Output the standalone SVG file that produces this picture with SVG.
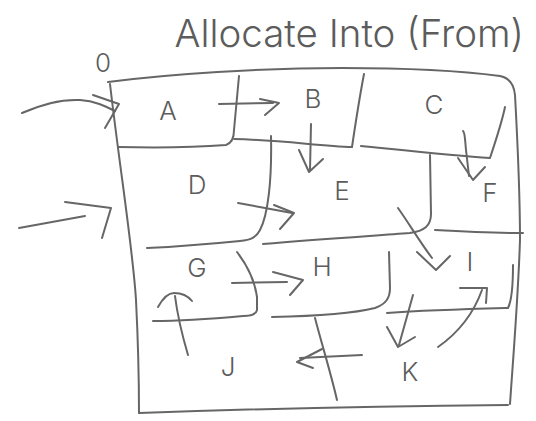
<svg xmlns="http://www.w3.org/2000/svg" width="536" height="421" viewBox="0 0 536 421">
  <style>
    .ink { fill: none; stroke: #666; stroke-width: 2; stroke-linecap: round; stroke-linejoin: round; }
    .lbl { font-family: Inter, "Liberation Sans", Arial, sans-serif; font-weight: 300; font-size: 26px; fill: #5c5c5c; text-anchor: middle; dominant-baseline: central; }
    .title { font-family: Inter, "Liberation Sans", Arial, sans-serif; font-weight: 300; font-size: 38.5px; fill: #5c5c5c; text-anchor: end; }
  </style>
  <rect width="536" height="421" fill="#fff"/>

  <!-- heading and origin mark -->
  <text class="title" x="524" y="47">Allocate Into (From)</text>
  <text class="lbl" x="103" y="62" font-size="19">0</text>

  <!-- outer frame and cell borders -->
  <g id="grid" class="ink">
    <path d="M108,82 C170,74 260,68 342,68 C420,68 470,72 500,76 C510,78 514,85 515,95 C518,150 520,200 520,240 C518,300 513,360 510,404"/>
    <path d="M110,84 C120,170 133,250 136,300 C138,340 139,380 139,413"/>
    <path d="M139,413 C250,409 400,406 508,405"/>
    <!-- A / B / C row -->
    <path d="M118,147 C160,148 200,147 226,145 C232,143 234,138 234,130 L239,76"/>
    <path d="M234,139 C280,140 320,146 352,147 C356,120 360,95 364,74"/>
    <path d="M361,146 C410,151 455,156 490,158 C496,140 502,122 505,107"/>
    <!-- D / E / F row -->
    <path d="M271,136 C272,180 268,215 260,230 C256,238 250,240 240,241 C200,245 170,247 147,248"/>
    <path d="M263,244 C320,239 370,236 410,233 C424,231 431,226 431,214 L430,155"/>
    <path d="M435,230 C470,232 500,233 523,233"/>
    <!-- G / H / I row -->
    <path d="M237,252 C247,265 255,282 257,297 L257,310 C256,315 250,316 243,316 C210,319 180,321 153,321"/>
    <path d="M272,317 C320,316 355,313 375,308 C386,304 390,298 390,288 L389,252"/>
    <path d="M387,313 C430,310 470,309 508,308 C512,300 513,285 513,265"/>
    <!-- J / K divider -->
    <path d="M315,318 C322,345 330,370 337,400"/>
  </g>

  <!-- cell labels -->
  <g id="A"><text class="lbl" x="168" y="110">A</text></g>
  <g id="B"><text class="lbl" x="313" y="98">B</text></g>
  <g id="C"><text class="lbl" x="434" y="104">C</text></g>
  <g id="D"><text class="lbl" x="197" y="184">D</text></g>
  <g id="E"><text class="lbl" x="342" y="190">E</text></g>
  <g id="F"><text class="lbl" x="490" y="192">F</text></g>
  <g id="G"><text class="lbl" x="197" y="267">G</text></g>
  <g id="H"><text class="lbl" x="322" y="266">H</text></g>
  <g id="I"><text class="lbl" x="470" y="261">I</text></g>
  <g id="J"><text class="lbl" x="228" y="366">J</text></g>
  <g id="K"><text class="lbl" x="410" y="371">K</text></g>

  <!-- allocation arrows -->
  <g id="connectors" class="ink">
    <!-- into A -->
    <path d="M22,113 C40,105 60,99 80,100 C95,101 105,106 115,111"/>
    <path d="M93,95 L119,104 L105,128"/>
    <!-- into D -->
    <path d="M19,228 L85,216"/>
    <path d="M65,202 L111,208 L102,238"/>
    <!-- A to B -->
    <path d="M219,104 L273,103"/>
    <path d="M260,99 L279,103 L265,115"/>
    <!-- B to E -->
    <path d="M311,124 L310,170"/>
    <path d="M299,150 L309,172 L323,159"/>
    <!-- C to F -->
    <path d="M463,131 C465,132 465,140 466,150 L469,176"/>
    <path d="M458,158 L473,180 L485,167"/>
    <!-- D to E -->
    <path d="M238,203 C255,206 275,210 292,213"/>
    <path d="M274,205 L294,213 L280,229"/>
    <!-- E to I -->
    <path d="M398,208 C410,225 420,242 432,258"/>
    <path d="M417,252 L436,270 L450,256"/>
    <!-- G to H -->
    <path d="M232,283 L287,282"/>
    <path d="M273,272 L303,280 L290,295"/>
    <!-- J to G -->
    <path d="M188,355 C183,338 178,320 175,296"/>
    <path d="M158,307 C163,298 168,293 174,293 C182,293 188,296 192,301"/>
    <!-- K to J -->
    <path d="M362,355 L300,358"/>
    <path d="M322,349 L297,362 L313,368"/>
    <!-- I to K -->
    <path d="M413,295 L399,345"/>
    <path d="M387,327 L398,347 L415,337"/>
    <!-- K to I -->
    <path d="M438,347 C458,333 473,315 482,290"/>
    <path d="M460,288 L487,288 L486,303"/>
  </g>
</svg>
